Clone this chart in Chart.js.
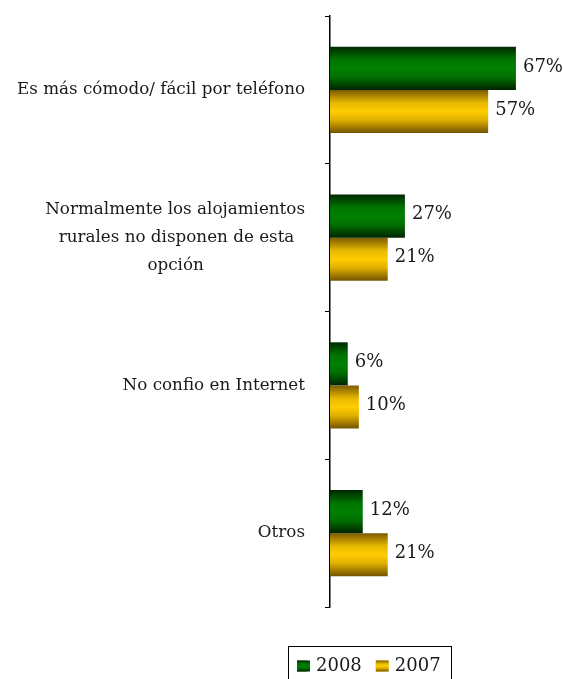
<!DOCTYPE html>
<html>
<head>
<meta charset="utf-8">
<script src="https://cdn.jsdelivr.net/npm/chart.js@4"></script>
<style>
  html, body { margin: 0; padding: 0; background: #fff; overflow: hidden; }
  #wrap { position: relative; width: 563px; height: 700px; }
</style>
</head>
<body>
<div id="wrap"><canvas id="chart"></canvas></div>
<script>
const categories = [
  'Es más cómodo/ fácil por teléfono',
  ['Normalmente los alojamientos', 'rurales no disponen de esta', 'opción'],
  'No confio en Internet',
  'Otros'
];
const seriesNames = ['2008', '2007'];
const values2008 = [67, 27, 6.4, 11.8];
const values2007 = [57, 20.8, 10.4, 20.8];

const FONT = 'DejaVu Serif';
const TEXT = '#1a1a1a';
const LABEL_SIZE = 16.75;

// banded vertical shading, dark edges / bright middle
const greenStops = [[0, '#002800'], [0.3, '#007400'], [0.5, '#008000'], [0.7, '#007000'], [1, '#002400']];
const goldStops = [[0, '#7a5a00'], [0.3, '#e6b800'], [0.5, '#ffcc00'], [0.7, '#e0b000'], [1, '#735400']];

function shade(ctx, top, bottom, stops) {
  const g = ctx.createLinearGradient(0, top, 0, bottom);
  stops.forEach(s => g.addColorStop(s[0], s[1]));
  return g;
}

// centre the lines of a wrapped label on each other (ticks are right-aligned)
const measure = document.createElement('canvas').getContext('2d');
measure.font = LABEL_SIZE + 'px "' + FONT + '"';
function centreLines(label) {
  if (!Array.isArray(label)) return label;
  const sp = measure.measureText('\u00a0').width;
  const widths = label.map(l => measure.measureText(l).width);
  const max = Math.max(...widths);
  return label.map((l, i) => l + '\u00a0'.repeat(Math.round((max - widths[i]) / 2 / sp)));
}

const shadePlugin = {
  id: 'shade',
  beforeDatasetsDraw(chart) {
    chart.data.datasets.forEach((ds, i) => {
      chart.getDatasetMeta(i).data.forEach(el => {
        const h = el.height;
        el.options.backgroundColor = shade(chart.ctx, el.y - h / 2, el.y + h / 2, ds.stops);
      });
    });
  }
};

const valueLabels = {
  id: 'valueLabels',
  afterDatasetsDraw(chart) {
    const ctx = chart.ctx;
    ctx.save();
    ctx.font = '18px "' + FONT + '"';
    ctx.fillStyle = TEXT;
    ctx.textAlign = 'left';
    ctx.textBaseline = 'middle';
    chart.data.datasets.forEach((ds, i) => {
      chart.getDatasetMeta(i).data.forEach((el, j) => {
        ctx.fillText(Math.round(ds.data[j]) + '%', el.x + 7, el.y - 1.5);
      });
    });
    ctx.restore();
  }
};

const legendBox = {
  id: 'legendBox',
  afterLayout(chart) {
    const lg = chart.legend;
    const dx = chart.chartArea.left - 47 - lg.left;
    const dy = chart.chartArea.bottom + 36 - lg.top;
    lg.left += dx; lg.right += dx;
    lg.top += dy; lg.bottom += dy;
  },
  afterDraw(chart) {
    const ctx = chart.ctx;
    const hbs = chart.legend.legendHitBoxes;
    if (!hbs || !hbs.length) return;
    ctx.save();
    hbs.forEach((hb, i) => {
      const top = hb.top + 3.5;
      ctx.fillStyle = shade(ctx, top, top + 11, chart.data.datasets[i].stops);
      ctx.fillRect(hb.left, top, 13, 11);
    });
    const last = hbs[hbs.length - 1];
    const l = Math.round(hbs[0].left - 9) + 0.5;
    const r = Math.round(last.left + last.width + 10) + 0.5;
    const t = Math.round(hbs[0].top - 11) + 0.5;
    ctx.strokeStyle = '#000';
    ctx.lineWidth = 1;
    ctx.strokeRect(l, t, r - l, 60);
    ctx.restore();
  }
};

new Chart(document.getElementById('chart'), {
  type: 'bar',
  data: {
    labels: categories,
    datasets: [
      { label: seriesNames[0], data: values2008, stops: greenStops, backgroundColor: () => '#008000' },
      { label: seriesNames[1], data: values2007, stops: goldStops, backgroundColor: () => '#ffcc00' }
    ]
  },
  options: {
    indexAxis: 'y',
    responsive: true,
    maintainAspectRatio: false,
    animation: false,
    categoryPercentage: 0.583,
    barPercentage: 1,
    borderWidth: 0,
    layout: { padding: { top: 16, right: 11, bottom: 51, left: 0 } },
    scales: {
      x: { display: false, min: 0, max: 80 },
      y: {
        grid: { display: true, drawOnChartArea: false, drawTicks: true, tickLength: 5, offset: true, color: '#000', lineWidth: 1 },
        border: { display: true, color: '#000', width: 1.5 },
        ticks: {
          color: TEXT, padding: 20,
          font: { family: FONT, size: LABEL_SIZE, lineHeight: 1.67 },
          callback(value) { return centreLines(this.getLabelForValue(value)); }
        },
        afterFit: s => { s.width = 330; s.paddingTop = 0; s.paddingBottom = 0; }
      }
    },
    plugins: {
      legend: {
        position: 'bottom',
        align: 'start',
        labels: { boxWidth: 10, boxHeight: 11, padding: 14, color: TEXT, font: { family: FONT, size: 18 } }
      },
      tooltip: { enabled: false }
    }
  },
  plugins: [shadePlugin, valueLabels, legendBox]
});
</script>
</body>
</html>
